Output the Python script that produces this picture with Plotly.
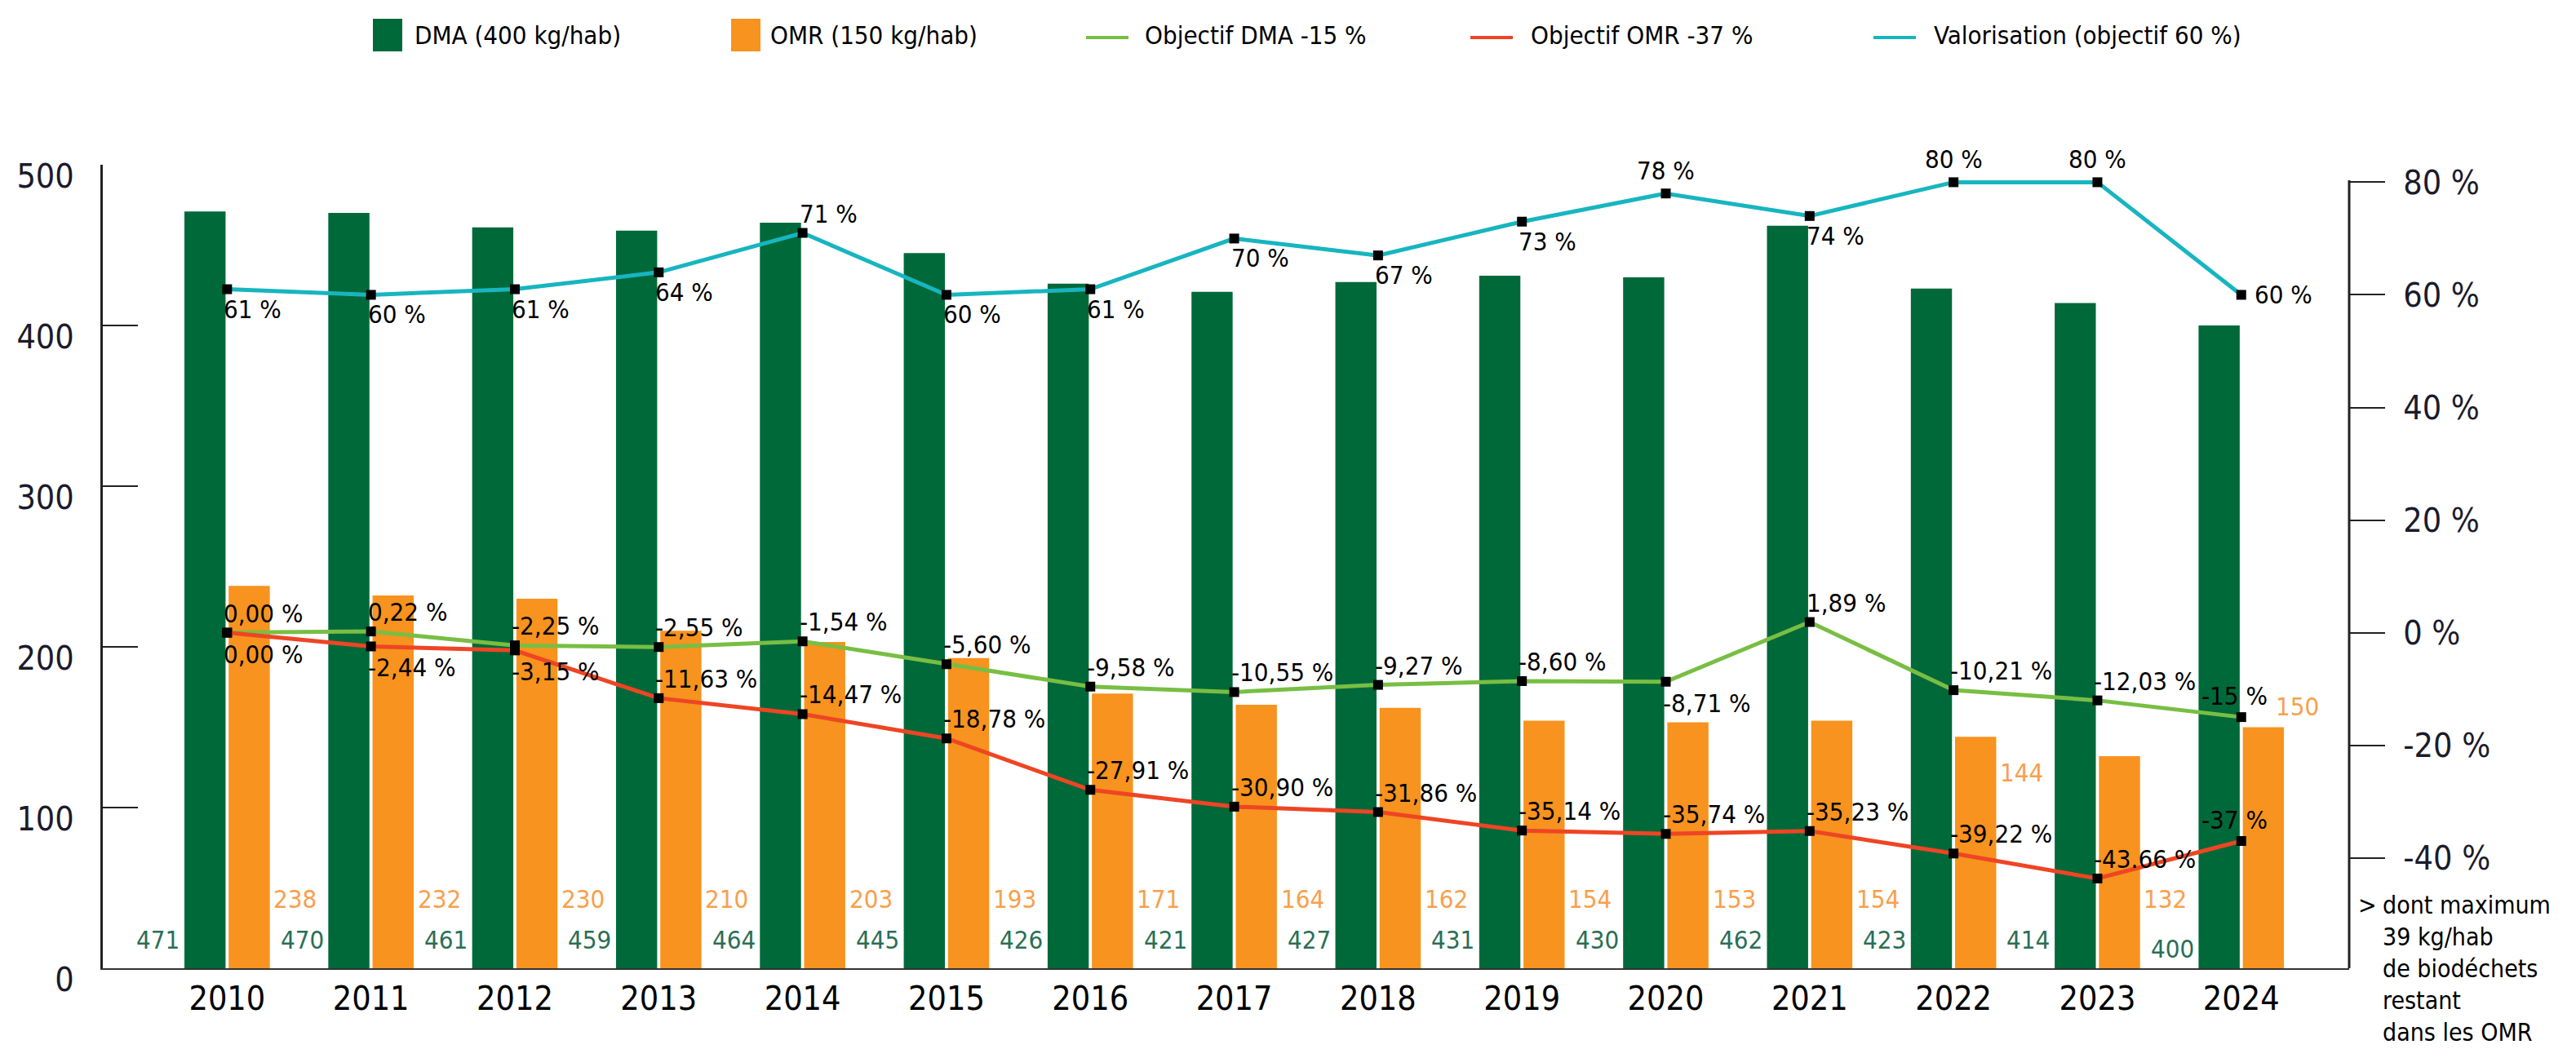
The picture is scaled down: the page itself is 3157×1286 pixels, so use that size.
import plotly.graph_objects as go

# ---------------- data ----------------
YEARS = [str(y) for y in range(2010, 2025)]
DMA = [471, 470, 461, 459, 464, 445, 426, 421, 427, 431, 430, 462, 423, 414, 400]
OMR = [238, 232, 230, 210, 203, 193, 171, 164, 162, 154, 153, 154, 144, 132, 150]
OBJ_DMA = [0.00, 0.22, -2.25, -2.55, -1.54, -5.60, -9.58, -10.55, -9.27, -8.60, -8.71, 1.89, -10.21, -12.03, -15]
OBJ_DMA_TXT = ["0,00 %", "0,22 %", "-2,25 %", "-2,55 %", "-1,54 %", "-5,60 %", "-9,58 %", "-10,55 %",
               "-9,27 %", "-8,60 %", "-8,71 %", "1,89 %", "-10,21 %", "-12,03 %", "-15 %"]
OBJ_OMR = [0.00, -2.44, -3.15, -11.63, -14.47, -18.78, -27.91, -30.90, -31.86, -35.14, -35.74, -35.23, -39.22, -43.66, -37]
OBJ_OMR_TXT = ["0,00 %", "-2,44 %", "-3,15 %", "-11,63 %", "-14,47 %", "-18,78 %", "-27,91 %", "-30,90 %",
               "-31,86 %", "-35,14 %", "-35,74 %", "-35,23 %", "-39,22 %", "-43.66 %", "-37 %"]
VALO = [61, 60, 61, 64, 71, 60, 61, 70, 67, 73, 78, 74, 80, 80, 60]
LEFT_TICKS = [0, 100, 200, 300, 400, 500]
RIGHT_TICKS = [-40, -20, 0, 20, 40, 60, 80]
LEGEND_NAMES = ["DMA (400 kg/hab)", "OMR (150 kg/hab)", "Objectif DMA -15 %",
                "Objectif OMR -37 %", "Valorisation (objectif 60 %)"]
NOTE_LINES = ["dont maximum", "39 kg/hab", "de biodéchets", "restant", "dans les OMR"]

# ---------------- styles ----------------
W, H = 3157, 1286
L, R, T, B = 118, 2871, 194, 1179
C_DMA = "#00693A"
C_OMR = "#F7931E"
C_DMA_TXT = "#2A6F55"
C_OMR_TXT = "#F8A04C"
C_GREEN = "#78BE43"
C_RED = "#EE4524"
C_CYAN = "#17B5C0"
COND = "DejaVu Sans Condensed, DejaVu Sans, sans-serif"
INK = "#1b1b2b"


def px_x(p):
    return (p - L) / (R - L)


def px_y(p):
    return (B - p) / (B - T)


fig = go.Figure()
fig.add_trace(go.Bar(x=YEARS, y=DMA, name=LEGEND_NAMES[0], marker=dict(color=C_DMA, line=dict(width=0)),
                     yaxis="y", showlegend=False))
fig.add_trace(go.Bar(x=YEARS, y=OMR, name=LEGEND_NAMES[1], marker=dict(color=C_OMR, line=dict(width=0)),
                     yaxis="y", showlegend=False))
for vals, col, name in [(VALO, C_CYAN, LEGEND_NAMES[4]), (OBJ_DMA, C_GREEN, LEGEND_NAMES[2]),
                        (OBJ_OMR, C_RED, LEGEND_NAMES[3])]:
    fig.add_trace(go.Scatter(x=YEARS, y=vals, name=name, yaxis="y2", mode="lines+markers",
                             line=dict(color=col, width=5),
                             marker=dict(symbol="square", color="black", size=12),
                             showlegend=False))

annotations = []

# label placement helpers
PLACE = {
    "ar": dict(xanchor="left", yanchor="bottom", xshift=-6, yshift=4),
    "br": dict(xanchor="left", yanchor="top", xshift=-6, yshift=-6),
    "bv": dict(xanchor="left", yanchor="top", xshift=-6, yshift=-4),
    "a": dict(xanchor="center", yanchor="bottom", xshift=0, yshift=8),
    "al": dict(xanchor="center", yanchor="bottom", xshift=-8, yshift=6),
    "r": dict(xanchor="left", yanchor="middle", xshift=14, yshift=0),
}
green_pos = ["ar"] * 15
green_pos[10] = "br"
green_pos[14] = "al"
red_pos = ["ar"] * 15
for i in (0, 1, 2):
    red_pos[i] = "br"
red_pos[14] = "al"
cyan_pos = ["bv"] * 15
cyan_pos[4] = "ar"
for i in (10, 12, 13):
    cyan_pos[i] = "a"
cyan_pos[14] = "r"

for vals, texts, pos in [(OBJ_DMA, OBJ_DMA_TXT, green_pos), (OBJ_OMR, OBJ_OMR_TXT, red_pos),
                         (VALO, [f"{v} %" for v in VALO], cyan_pos)]:
    for i, (v, t) in enumerate(zip(vals, texts)):
        annotations.append(dict(x=i, y=v, xref="x", yref="y2", text=t, showarrow=False,
                                font=dict(family=COND, size=31, color="black"), **PLACE[pos[i]]))

# bar value labels
for i, v in enumerate(DMA):
    yv = 12 if i == 14 else 18
    annotations.append(dict(x=i, y=yv, xref="x", yref="y", text=str(v), showarrow=False,
                            xanchor="right", yanchor="middle", xshift=-56,
                            font=dict(family=COND, size=31, color=C_DMA_TXT)))
for i, v in enumerate(OMR):
    yv, xs = 43, 55
    if i == 12:
        yv = 122
    if i == 14:
        yv, xs = 163, 40
    annotations.append(dict(x=i, y=yv, xref="x", yref="y", text=str(v), showarrow=False,
                            xanchor="left", yanchor="middle", xshift=xs,
                            font=dict(family=COND, size=31, color=C_OMR_TXT)))

# side note
annotations.append(dict(x=px_x(2880), y=px_y(1082), xref="paper", yref="paper", text="&gt;",
                        showarrow=False, xanchor="left", yanchor="top",
                        font=dict(family=COND, size=30, color="black")))
annotations.append(dict(x=px_x(2910), y=px_y(1082), xref="paper", yref="paper",
                        text="<br>".join(NOTE_LINES), align="left",
                        showarrow=False, xanchor="left", yanchor="top",
                        font=dict(family=COND, size=30, color="black")))

# manual legend
shapes = []
LEG_Y = 35
leg_items = [("rect", C_DMA, 449, 498), ("rect", C_OMR, 888, 934), ("line", C_GREEN, 1323, 1393),
             ("line", C_RED, 1794, 1866), ("line", C_CYAN, 2288, 2360)]
for (kind, col, x0, xt), name in zip(leg_items, LEGEND_NAMES):
    if kind == "rect":
        shapes.append(dict(type="rect", xref="paper", yref="paper", x0=px_x(x0), x1=px_x(x0 + 36),
                           y0=px_y(LEG_Y + 20), y1=px_y(LEG_Y - 20), fillcolor=col, line=dict(width=0)))
    else:
        shapes.append(dict(type="line", xref="paper", yref="paper", x0=px_x(x0), x1=px_x(x0 + 52),
                           y0=px_y(LEG_Y + 3), y1=px_y(LEG_Y + 3), line=dict(color=col, width=4)))
    annotations.append(dict(x=px_x(xt), y=px_y(LEG_Y), xref="paper", yref="paper", text=name,
                            showarrow=False, xanchor="left", yanchor="middle",
                            font=dict(family=COND, size=31, color="black")))

# right axis line (starts a little below the top of the plot, as in the reference)
shapes.append(dict(type="line", xref="paper", yref="paper", x0=1, x1=1, y0=0, y1=px_y(213),
                   line=dict(color="#222222", width=3)))

fig.update_layout(
    width=W, height=H,
    margin=dict(l=L, r=W - R, t=T, b=H - B, pad=0),
    paper_bgcolor="white", plot_bgcolor="white",
    barmode="group", bargap=0.385, bargroupgap=0.07,
    showlegend=False,
    xaxis=dict(type="category", range=[-0.864, 14.75], showgrid=False, zeroline=False,
               showline=True, linecolor="#333333", linewidth=2, ticks="",
               tickfont=dict(family=COND, size=41, color="black"), ticklabelstandoff=0),
    yaxis=dict(range=[0, 500], tickvals=LEFT_TICKS, showgrid=False, zeroline=False,
               showline=True, linecolor="#222222", linewidth=3,
               ticks="inside", ticklen=43, tickwidth=2, tickcolor="#222222",
               tickfont=dict(family=COND, size=41, color=INK), ticklabelstandoff=24,
               ticklabelshift=14),
    yaxis2=dict(range=[-59.6, 83.1], overlaying="y", side="right", tickvals=RIGHT_TICKS,
                ticktext=[f"{v} %" for v in RIGHT_TICKS], showgrid=False, zeroline=False,
                showline=False,
                ticks="outside", ticklen=43, tickwidth=2, tickcolor="#222222",
                tickfont=dict(family=COND, size=41, color=INK), ticklabelstandoff=14),
    annotations=annotations,
    shapes=shapes,
)

fig.write_html("out.html")
